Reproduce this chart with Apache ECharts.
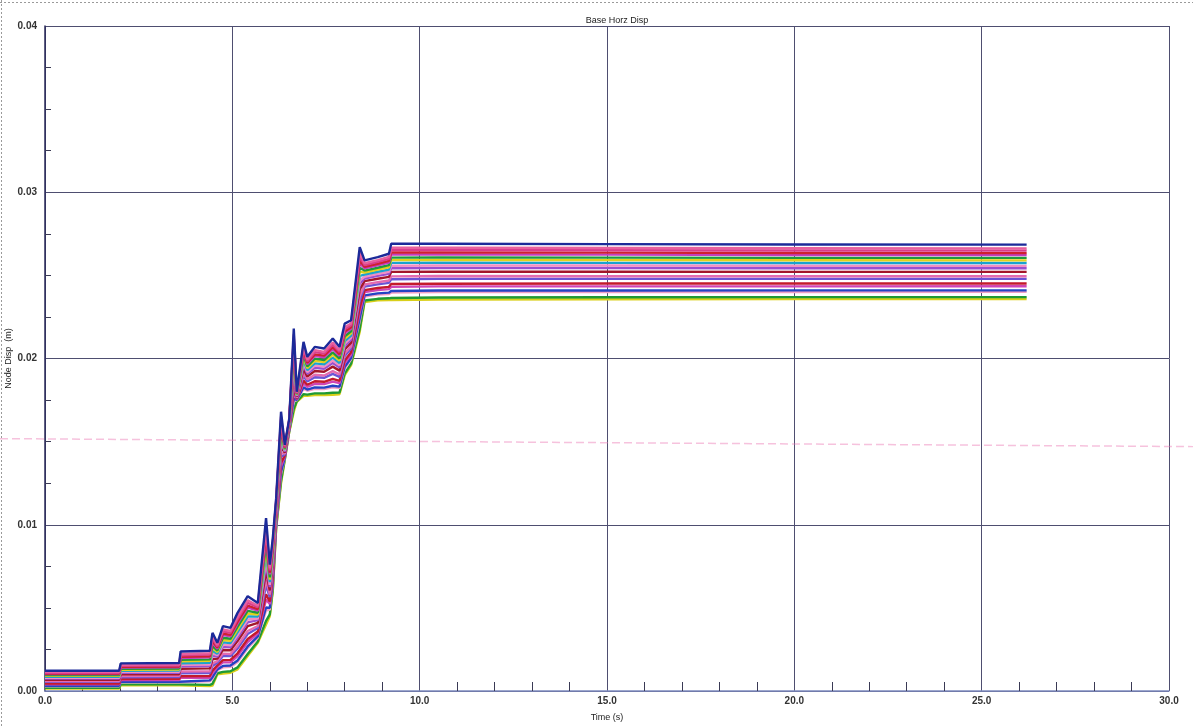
<!DOCTYPE html>
<html>
<head>
<meta charset="utf-8">
<title>Base Horz Disp</title>
<script src="https://cdn.jsdelivr.net/npm/echarts@6/dist/echarts.min.js"></script>
<style>
  html, body { margin: 0; padding: 0; background: #fff; }
  #chart { width: 1193px; height: 727px; }
</style>
</head>
<body>
<div id="chart"></div>
<script>
// Time samples (s) shared by every node record
const timeS = [0, 1.98, 2.02, 3.58, 3.62, 4.40, 4.47, 4.60, 4.75, 4.95,
  5.14, 5.41, 5.68, 5.90, 6.00, 6.08, 6.17, 6.30, 6.40, 6.52,
  6.64, 6.72, 6.90, 7.00, 7.20, 7.45, 7.68, 7.86, 8.00, 8.17,
  8.40, 8.53, 8.88, 9.18, 9.24, 10.5, 15.0, 20.0, 26.2];

// Horizontal displacement of the base nodes (m)
const node01 = [0.00122,0.00122,0.00166,0.00168,0.00238,0.00242,0.00350,0.00290,0.00390,0.00380,0.00470,0.00570,0.00530,0.01040,0.00760,0.00920,0.01160,0.01680,0.01480,0.01640,0.02180,0.01800,0.02100,0.02010,0.02070,0.02060,0.02120,0.02070,0.02210,0.02230,0.02670,0.02590,0.02610,0.02630,0.02690,0.02690,0.02688,0.02686,0.02685];
const node02 = [0.00115,0.00115,0.00157,0.00159,0.00223,0.00227,0.00328,0.00277,0.00370,0.00361,0.00446,0.00545,0.00513,0.00995,0.00738,0.00898,0.01147,0.01650,0.01474,0.01634,0.02145,0.01796,0.02077,0.01994,0.02050,0.02040,0.02096,0.02050,0.02188,0.02211,0.02634,0.02573,0.02592,0.02611,0.02666,0.02667,0.02665,0.02663,0.02662];
const node03 = [0.00110,0.00110,0.00152,0.00153,0.00215,0.00219,0.00315,0.00269,0.00359,0.00350,0.00433,0.00530,0.00504,0.00970,0.00726,0.00885,0.01140,0.01633,0.01470,0.01631,0.02125,0.01793,0.02064,0.01984,0.02038,0.02029,0.02083,0.02039,0.02176,0.02200,0.02614,0.02562,0.02581,0.02599,0.02653,0.02653,0.02651,0.02650,0.02649];
const node04 = [0.00105,0.00105,0.00146,0.00147,0.00206,0.00209,0.00301,0.00261,0.00346,0.00338,0.00417,0.00514,0.00493,0.00941,0.00712,0.00870,0.01132,0.01613,0.01466,0.01628,0.02102,0.01791,0.02050,0.01974,0.02025,0.02017,0.02068,0.02026,0.02162,0.02188,0.02591,0.02551,0.02570,0.02587,0.02638,0.02638,0.02637,0.02635,0.02634];
const node05 = [0.00102,0.00102,0.00141,0.00143,0.00198,0.00202,0.00290,0.00254,0.00336,0.00329,0.00405,0.00502,0.00484,0.00918,0.00701,0.00859,0.01126,0.01598,0.01463,0.01625,0.02085,0.01789,0.02038,0.01965,0.02015,0.02007,0.02056,0.02016,0.02151,0.02179,0.02573,0.02542,0.02561,0.02577,0.02626,0.02626,0.02625,0.02623,0.02623];
const node06 = [0.00096,0.00096,0.00134,0.00135,0.00187,0.00190,0.00272,0.00243,0.00320,0.00314,0.00387,0.00482,0.00471,0.00883,0.00684,0.00842,0.01116,0.01575,0.01458,0.01620,0.02057,0.01785,0.02020,0.01952,0.01999,0.01991,0.02037,0.02000,0.02134,0.02164,0.02545,0.02529,0.02546,0.02562,0.02607,0.02608,0.02607,0.02605,0.02605];
const node07 = [0.00091,0.00091,0.00128,0.00129,0.00178,0.00181,0.00258,0.00235,0.00307,0.00302,0.00371,0.00466,0.00460,0.00854,0.00670,0.00827,0.01108,0.01555,0.01454,0.01617,0.02035,0.01783,0.02006,0.01942,0.01986,0.01979,0.02022,0.01987,0.02120,0.02152,0.02522,0.02517,0.02535,0.02549,0.02592,0.02593,0.02592,0.02591,0.02590];
const node08 = [0.00086,0.00086,0.00121,0.00123,0.00167,0.00170,0.00242,0.00225,0.00293,0.00288,0.00354,0.00448,0.00448,0.00822,0.00655,0.00811,0.01099,0.01534,0.01449,0.01613,0.02010,0.01780,0.01989,0.01930,0.01971,0.01965,0.02005,0.01973,0.02105,0.02138,0.02497,0.02505,0.02522,0.02535,0.02575,0.02576,0.02575,0.02574,0.02574];
const node09 = [0.00080,0.00080,0.00115,0.00116,0.00157,0.00159,0.00226,0.00216,0.00279,0.00275,0.00337,0.00430,0.00436,0.00790,0.00639,0.00795,0.01090,0.01512,0.01445,0.01609,0.01985,0.01777,0.01973,0.01918,0.01957,0.01951,0.01988,0.01959,0.02089,0.02125,0.02471,0.02492,0.02509,0.02522,0.02558,0.02559,0.02559,0.02558,0.02557];
const node10 = [0.00075,0.00075,0.00109,0.00110,0.00148,0.00150,0.00212,0.00207,0.00266,0.00263,0.00322,0.00413,0.00426,0.00762,0.00625,0.00781,0.01082,0.01493,0.01441,0.01605,0.01962,0.01774,0.01959,0.01908,0.01944,0.01938,0.01973,0.01946,0.02075,0.02113,0.02448,0.02481,0.02497,0.02509,0.02543,0.02544,0.02544,0.02543,0.02543];
const node11 = [0.00068,0.00068,0.00100,0.00101,0.00134,0.00136,0.00191,0.00195,0.00247,0.00245,0.00300,0.00390,0.00410,0.00720,0.00605,0.00760,0.01070,0.01465,0.01435,0.01600,0.01930,0.01770,0.01937,0.01892,0.01925,0.01920,0.01951,0.01927,0.02055,0.02095,0.02415,0.02465,0.02480,0.02491,0.02521,0.02522,0.02522,0.02521,0.02521];
const node12 = [0.00060,0.00060,0.00090,0.00091,0.00117,0.00119,0.00166,0.00180,0.00225,0.00223,0.00273,0.00361,0.00391,0.00669,0.00580,0.00734,0.01056,0.01431,0.01428,0.01594,0.01890,0.01765,0.01911,0.01874,0.01902,0.01898,0.01924,0.01905,0.02030,0.02073,0.02374,0.02445,0.02459,0.02469,0.02494,0.02496,0.02495,0.02495,0.02495];
const node13 = [0.00055,0.00055,0.00083,0.00084,0.00107,0.00108,0.00150,0.00170,0.00210,0.00210,0.00256,0.00343,0.00379,0.00637,0.00565,0.00718,0.01047,0.01409,0.01423,0.01590,0.01865,0.01762,0.01895,0.01862,0.01887,0.01884,0.01907,0.01890,0.02015,0.02060,0.02349,0.02432,0.02446,0.02455,0.02477,0.02479,0.02479,0.02479,0.02479];
const node14 = [0.00045,0.00045,0.00072,0.00073,0.00089,0.00090,0.00123,0.00154,0.00186,0.00187,0.00227,0.00313,0.00358,0.00582,0.00538,0.00691,0.01031,0.01373,0.01416,0.01583,0.01822,0.01757,0.01868,0.01842,0.01863,0.01860,0.01878,0.01866,0.01988,0.02037,0.02305,0.02411,0.02424,0.02431,0.02448,0.02450,0.02451,0.02451,0.02451];
const node15 = [0.00040,0.00040,0.00066,0.00066,0.00079,0.00080,0.00107,0.00145,0.00172,0.00173,0.00210,0.00295,0.00346,0.00550,0.00523,0.00675,0.01022,0.01351,0.01411,0.01579,0.01797,0.01754,0.01851,0.01830,0.01848,0.01846,0.01861,0.01852,0.01973,0.02023,0.02280,0.02399,0.02411,0.02417,0.02431,0.02434,0.02434,0.02434,0.02435];
const node16 = [0.00032,0.00032,0.00056,0.00056,0.00063,0.00064,0.00083,0.00130,0.00151,0.00153,0.00184,0.00268,0.00328,0.00502,0.00500,0.00651,0.01009,0.01319,0.01404,0.01573,0.01760,0.01750,0.01827,0.01813,0.01826,0.01825,0.01836,0.01831,0.01950,0.02003,0.02242,0.02380,0.02392,0.02396,0.02406,0.02409,0.02409,0.02410,0.02410];
const node17 = [0.00029,0.00029,0.00052,0.00052,0.00057,0.00058,0.00073,0.00125,0.00142,0.00145,0.00174,0.00257,0.00321,0.00483,0.00490,0.00642,0.01003,0.01306,0.01402,0.01570,0.01745,0.01748,0.01817,0.01806,0.01818,0.01816,0.01826,0.01822,0.01940,0.01995,0.02226,0.02372,0.02384,0.02388,0.02396,0.02399,0.02399,0.02400,0.02401];
const node18 = [0.00019,0.00019,0.00040,0.00040,0.00037,0.00037,0.00043,0.00107,0.00115,0.00119,0.00142,0.00223,0.00298,0.00422,0.00461,0.00611,0.00986,0.01265,0.01393,0.01563,0.01697,0.01742,0.01786,0.01783,0.01790,0.01790,0.01794,0.01795,0.01911,0.01969,0.02178,0.02349,0.02359,0.02362,0.02364,0.02367,0.02368,0.02369,0.02369];
const node19 = [0.00015,0.00015,0.00035,0.00035,0.00030,0.00030,0.00032,0.00100,0.00105,0.00110,0.00130,0.00210,0.00290,0.00400,0.00450,0.00600,0.00980,0.01250,0.01390,0.01560,0.01680,0.01740,0.01775,0.01775,0.01780,0.01780,0.01782,0.01785,0.01900,0.01960,0.02160,0.02340,0.02350,0.02352,0.02352,0.02355,0.02356,0.02357,0.02358];

const nodeRecords = [node01, node02, node03, node04, node05, node06, node07, node08, node09, node10,
  node11, node12, node13, node14, node15, node16, node17, node18, node19];
const nodeColors = ['#1c2a99', '#e8609e', '#d93d8c', '#d0202e', '#c23fbf', '#1f9a3c', '#e2d21e',
  '#1aa2cf', '#f38fc3', '#9a4fd0', '#a3172b', '#e46bb0', '#6a55d6', '#c41a2c', '#cf45b5',
  '#2443c4', '#f2a2c6', '#1f9a34', '#d9cf1a'];

// Axis ranges and tick steps
const timeRange = [0, 30];
const timeStep = 5;
const dispRange = [0, 0.04];
const dispStep = 0.01;

const chart = echarts.init(document.getElementById('chart'), null, { renderer: 'canvas' });

// Draw lower records first so the upper ones stay on top
const series = nodeRecords.map((rec, i) => ({
  name: 'Node ' + (i + 1),
  type: 'line',
  showSymbol: false,
  silent: true,
  z: 3 + (nodeRecords.length - i),
  data: timeS.map((t, k) => [t, rec[k]]),
  lineStyle: { width: 2.4, color: nodeColors[i] },
  itemStyle: { color: nodeColors[i] }
}));

chart.setOption({
  animation: false,
  backgroundColor: '#ffffff',
  textStyle: { fontFamily: 'Liberation Sans, Arial, sans-serif' },
  title: {
    text: 'Base Horz Disp',
    left: 612,
    top: 11,
    textAlign: 'center',
    textStyle: { fontSize: 9, fontWeight: 'normal', color: '#222' }
  },
  grid: { left: 45, right: 24, top: 26, bottom: 36, outerBoundsMode: 'none', containLabel: false },
  xAxis: {
    type: 'value',
    min: timeRange[0],
    max: timeRange[1],
    interval: timeStep,
    name: 'Time (s)',
    nameLocation: 'middle',
    nameGap: 22,
    nameMoveOverlap: false,
    nameTextStyle: { fontSize: 9, color: '#222' },
    axisLine: { show: true, lineStyle: { color: '#7d8bbf', width: 1.5 } },
    axisTick: { show: false, inside: true },
    minorTick: { show: true, splitNumber: 5, length: 9, lineStyle: { color: '#3a3a55', width: 1 } },
    axisLabel: {
      formatter: v => v.toFixed(1),
      fontSize: 10, fontWeight: 'bold', color: '#333', margin: 5
    },
    splitLine: { show: true, lineStyle: { color: '#4e4e70', width: 1 } }
  },
  yAxis: {
    type: 'value',
    min: dispRange[0],
    max: dispRange[1],
    interval: dispStep,
    name: 'Node Disp  (m)',
    nameLocation: 'middle',
    nameGap: 32,
    nameRotate: 90,
    nameMoveOverlap: false,
    nameTextStyle: { fontSize: 9, color: '#222' },
    axisLine: { show: true, lineStyle: { color: '#2a2a5a', width: 1.5 } },
    axisTick: { show: false, inside: true },
    minorTick: { show: true, splitNumber: 4, length: 6, lineStyle: { color: '#3a3a55', width: 1 } },
    axisLabel: {
      formatter: v => v.toFixed(2),
      fontSize: 10, fontWeight: 'bold', color: '#333', margin: 8
    },
    splitLine: { show: true, lineStyle: { color: '#4e4e70', width: 1 } }
  },
  series: series
});

// Faint pink rule across the sheet at 0.015 m and the dotted sheet edges
const pinkY = chart.convertToPixel({ yAxisIndex: 0 }, 0.015);
chart.setOption({
  graphic: [
    {
      type: 'line', silent: true, z: 1,
      shape: { x1: 0, y1: pinkY - 3, x2: 1193, y2: pinkY + 5 },
      style: { stroke: 'rgba(236,120,180,0.45)', lineWidth: 1.5, lineDash: [8, 4] }
    },
    {
      type: 'line', silent: true,
      shape: { x1: 1.5, y1: 0, x2: 1.5, y2: 727 },
      style: { stroke: '#9a9a9a', lineWidth: 1, lineDash: [2, 2] }
    },
    {
      type: 'line', silent: true,
      shape: { x1: 0, y1: 2.5, x2: 1193, y2: 2.5 },
      style: { stroke: '#9a9a9a', lineWidth: 1, lineDash: [2, 2] }
    }
  ]
});
</script>
</body>
</html>
